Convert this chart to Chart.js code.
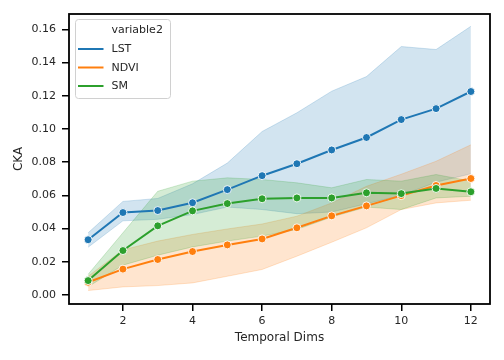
<!DOCTYPE html>
<html>
<head>
<meta charset="utf-8">
<script src="https://cdn.jsdelivr.net/npm/chart.js@4/dist/chart.umd.min.js"></script>
<style>
html,body{margin:0;padding:0;background:#fff;}
#wrap{width:504px;height:360px;position:relative;}
</style>
</head>
<body>
<div id="wrap"><canvas id="c" width="504" height="360"></canvas></div>
<script>
const dims = [1,2,3,4,5,6,7,8,9,10,11,12];
const xTicks = [2,4,6,8,10,12];
const yTicks = [0,0.02,0.04,0.06,0.08,0.10,0.12,0.14,0.16];
const seriesNames = ['LST','NDVI','SM'];
const lstMean = [0.0333,0.0497,0.0509,0.0556,0.0635,0.0719,0.0791,0.0874,0.0949,0.1057,0.1123,0.1226];
const lstHigh = [0.0375,0.0564,0.0582,0.0670,0.0795,0.0985,0.1098,0.1228,0.1316,0.1497,0.1479,0.1619];
const lstLow  = [0.0288,0.0447,0.0456,0.0485,0.0530,0.0515,0.0490,0.0500,0.0550,0.0600,0.0680,0.0730];
const ndviMean = [0.0077,0.0156,0.0214,0.0262,0.0302,0.0338,0.0405,0.0477,0.0537,0.0599,0.0660,0.0702];
const ndviHigh = [0.0113,0.0272,0.0325,0.0365,0.0398,0.0428,0.0475,0.0555,0.0655,0.0728,0.0806,0.0905];
const ndviLow  = [0.0027,0.0049,0.0057,0.0073,0.0113,0.0154,0.0234,0.0318,0.0405,0.0515,0.0555,0.0571];
const smMean = [0.0087,0.0268,0.0417,0.0507,0.0551,0.0580,0.0585,0.0585,0.0616,0.0611,0.0642,0.0622];
const smHigh = [0.0125,0.0375,0.0625,0.0686,0.0706,0.0696,0.0676,0.0646,0.0696,0.0686,0.0726,0.0686];
const smLow  = [0.0050,0.0180,0.0240,0.0290,0.0325,0.0355,0.0395,0.0470,0.0530,0.0515,0.0585,0.0595];

const colors = ['#1f77b4','#ff7f0e','#2ca02c'];
const bandColors = ['rgba(31,119,180,0.2)','rgba(255,127,14,0.2)','rgba(44,160,44,0.2)'];
const means = [lstMean, ndviMean, smMean];
const highs = [lstHigh, ndviHigh, smHigh];
const lows = [lstLow, ndviLow, smLow];

const toPts = arr => dims.map((d,i)=>({x:d,y:arr[i]}));
const datasets = [];
// bands: upper (fills to next) and lower
for (let s=0;s<3;s++){
  datasets.push({label:seriesNames[s]+'_hi', isBand:true, data:toPts(highs[s]), borderColor:bandColors[s], borderWidth:1,
    backgroundColor:bandColors[s], fill:'+1', pointRadius:0, pointHoverRadius:0, order:20-s*2, tension:0});
  datasets.push({label:seriesNames[s]+'_lo', isBand:true, data:toPts(lows[s]), borderColor:bandColors[s], borderWidth:1,
    fill:false, pointRadius:0, pointHoverRadius:0, order:19-s*2, tension:0});
}
for (let s=0;s<3;s++){
  datasets.push({label:seriesNames[s], isBand:false, data:toPts(means[s]), borderColor:colors[s], backgroundColor:colors[s],
    borderWidth:2, pointRadius:4, pointBorderColor:'#ffffff', pointBorderWidth:0.9, pointBackgroundColor:colors[s],
    fill:false, order:3-s, tension:0});
}

const frameAndLegend = {
  id:'frameAndLegend',
  afterDraw(chart){
    const ctx = chart.ctx, a = chart.chartArea;
    ctx.save();
    ctx.strokeStyle = '#000';
    ctx.lineWidth = 1.8;
    ctx.strokeRect(a.left, a.top, a.right-a.left, a.bottom-a.top);
    // legend
    const bx=75.5, by=19.5, bw=95, bh=79, r=3;
    ctx.beginPath();
    ctx.moveTo(bx+r,by); ctx.lineTo(bx+bw-r,by); ctx.arcTo(bx+bw,by,bx+bw,by+r,r);
    ctx.lineTo(bx+bw,by+bh-r); ctx.arcTo(bx+bw,by+bh,bx+bw-r,by+bh,r);
    ctx.lineTo(bx+r,by+bh); ctx.arcTo(bx,by+bh,bx,by+bh-r,r);
    ctx.lineTo(bx,by+r); ctx.arcTo(bx,by,bx+r,by,r); ctx.closePath();
    ctx.fillStyle='rgba(255,255,255,0.8)'; ctx.fill();
    ctx.strokeStyle='#d0d0d0'; ctx.lineWidth=1; ctx.stroke();
    ctx.font = '11px "DejaVu Sans"';
    ctx.fillStyle = '#262626';
    ctx.textBaseline = 'middle';
    ctx.textAlign = 'left';
    ctx.fillText('variable2', 111.5, 30.5);
    const lines = chart.data.datasets.filter(d=>!d.isBand);
    const ys = [49, 67.5, 86];
    lines.forEach((d,i)=>{
      ctx.strokeStyle = d.borderColor; ctx.lineWidth = 2;
      ctx.beginPath(); ctx.moveTo(78,ys[i]); ctx.lineTo(103.5,ys[i]); ctx.stroke();
      ctx.fillStyle = '#262626';
      ctx.fillText(d.label, 111.5, ys[i]+0.5);
    });
    ctx.restore();
  }
};

new Chart(document.getElementById('c'), {
  type:'line',
  data:{datasets},
  options:{
    responsive:false, animation:false, devicePixelRatio:1,
    layout:{padding:{left:0,right:14,top:14,bottom:0}},
    plugins:{legend:{display:false}, tooltip:{enabled:false}, filler:{propagate:false}},
    scales:{
      x:{type:'linear', min:0.45, max:12.55,
        afterBuildTicks: ax => { ax.ticks = xTicks.map(v=>({value:v})); },
        afterFit: ax => { ax.height = 56; ax.paddingLeft=0; ax.paddingRight=0; ax.paddingTop=0; ax.paddingBottom=0; },
        grid:{drawOnChartArea:false, drawTicks:true, tickLength:7, color:'#000', lineWidth:1.5},
        border:{display:false},
        ticks:{padding:4, color:'#262626', font:{family:'DejaVu Sans', size:11}, maxRotation:0,
          callback: v => String(v)},
        title:{display:true, text:'Temporal Dims', color:'#262626', font:{family:'DejaVu Sans', size:12}, padding:{top:0,bottom:15}}
      },
      y:{type:'linear', min:-0.0054, max:0.1693,
        afterBuildTicks: ax => { ax.ticks = yTicks.map(v=>({value:v})); },
        afterFit: ax => { ax.width = 69; ax.paddingLeft=0; ax.paddingRight=0; ax.paddingTop=0; ax.paddingBottom=0; },
        grid:{drawOnChartArea:false, drawTicks:true, tickLength:7, color:'#000', lineWidth:1.5},
        border:{display:false},
        ticks:{padding:6, color:'#262626', font:{family:'DejaVu Sans', size:11},
          callback: v => v.toFixed(2)},
        title:{display:true, text:'CKA', color:'#262626', font:{family:'DejaVu Sans', size:12}, padding:{top:12,bottom:0}}
      }
    }
  },
  plugins:[frameAndLegend]
});
</script>
</body>
</html>
